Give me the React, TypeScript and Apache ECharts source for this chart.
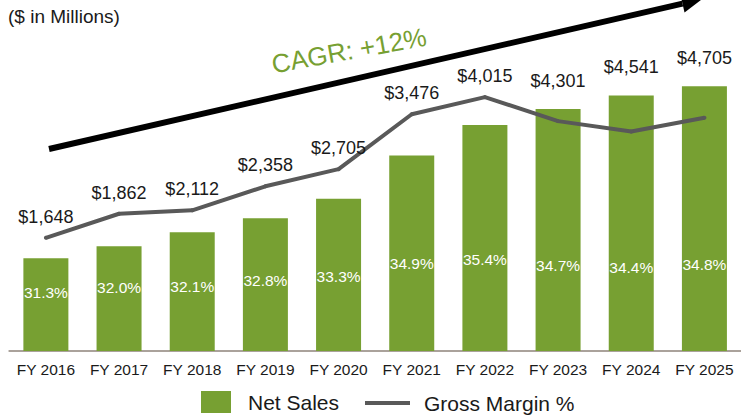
import React, { useEffect, useRef } from "react";
import * as echarts from "echarts";

const categories = ["FY 2016", "FY 2017", "FY 2018", "FY 2019", "FY 2020", "FY 2021", "FY 2022", "FY 2023", "FY 2024", "FY 2025"];
const netSales = [1648, 1862, 2112, 2358, 2705, 3476, 4015, 4301, 4541, 4705];
const grossMargin = [31.3, 32.0, 32.1, 32.8, 33.3, 34.9, 35.4, 34.7, 34.4, 34.8];
const unitNote = "($ in Millions)";
const cagrText = "CAGR: +12%";

const FONT = "'Liberation Sans', Arial, sans-serif";
const GREEN = "#77A032";
const GRAY = "#595959";

const salesMax = 6000;
const gmMin = 28;
const gmMax = 37.84;

export default function App() {
  const ref = useRef<HTMLDivElement>(null);
  useEffect(() => {
    document.body.style.margin = "0";
    if (!ref.current) return;
    const chart = echarts.init(ref.current, null, { renderer: "svg" });
    const barHigher = netSales.map(
      (v, i) => v / salesMax > (grossMargin[i] - gmMin) / (gmMax - gmMin)
    );
    const money = (i: number) => "$" + netSales[i].toLocaleString("en-US");

    // arrow geometry
    const sx = 49, sy = 149, tx = 702, ty = -0.8;
    const dx = tx - sx, dy = ty - sy;
    const len = Math.sqrt(dx * dx + dy * dy);
    const ux = dx / len, uy = dy / len;
    const nx = -uy, ny = ux;
    const L = 20, W = 9;
    const bx = tx - L * ux, by = ty - L * uy;

    chart.setOption({
      animation: false,
      grid: { left: 9.3, right: -7.4, top: 13.4, bottom: 66, containLabel: false },
      xAxis: {
        type: "category",
        data: categories,
        axisLine: { lineStyle: { color: "#aaa29b", width: 2 } },
        axisTick: { show: false },
        axisLabel: { interval: 0, fontSize: 15.5, color: "#1a1a1a", fontFamily: FONT, margin: 10 },
      },
      yAxis: [
        { type: "value", min: 0, max: salesMax, show: false },
        { type: "value", min: gmMin, max: gmMax, show: false },
        { type: "value", min: 24.05, max: 66.04, show: false },
      ],
      legend: [
        {
          data: ["Net Sales"],
          left: 201,
          top: 391,
          padding: 0,
          itemWidth: 30,
          itemHeight: 22,
          icon: "rect",
          selectedMode: false,
          textStyle: { fontSize: 21, color: "#1a1a1a", fontFamily: FONT, padding: [0, 0, 0, 12] },
        },
        {
          data: ["Gross Margin %"],
          left: 365,
          top: 392.5,
          padding: 0,
          itemWidth: 45,
          itemHeight: 4,
          icon: "rect",
          selectedMode: false,
          itemStyle: { color: GRAY },
          textStyle: { fontSize: 21, color: "#1a1a1a", fontFamily: FONT, padding: [0, 0, 0, 9] },
        },
      ],
      series: [
        {
          name: "Net Sales",
          type: "bar",
          barWidth: 45,
          itemStyle: { color: GREEN },
          data: netSales.map((v, i) => ({ value: v, label: { show: barHigher[i] } })),
          label: {
            show: false,
            position: "top",
            distance: 19,
            fontSize: 18,
            color: "#1a1a1a",
            fontFamily: FONT,
            formatter: (p: any) => money(p.dataIndex),
          },
          silent: true,
        },
        {
          name: "Gross Margin %",
          type: "line",
          yAxisIndex: 1,
          symbol: "circle",
          symbolSize: 4,
          itemStyle: { color: GRAY },
          lineStyle: { color: GRAY, width: 4 },
          data: grossMargin.map((v, i) => ({ value: v, label: { show: !barHigher[i] } })),
          label: {
            show: false,
            position: "top",
            distance: 10,
            fontSize: 18,
            color: "#1a1a1a",
            fontFamily: FONT,
            formatter: (p: any) => money(p.dataIndex),
          },
          silent: true,
          z: 3,
        },
        {
          name: "gmLabels",
          type: "line",
          yAxisIndex: 2,
          symbol: "circle",
          symbolSize: 1,
          itemStyle: { color: "rgba(0,0,0,0)" },
          lineStyle: { width: 0, opacity: 0 },
          data: grossMargin,
          label: {
            show: true,
            position: "inside",
            fontSize: 15.5,
            color: "#ffffff",
            fontFamily: FONT,
            formatter: (p: any) => Number(p.value).toFixed(1) + "%",
          },
          silent: true,
          z: 4,
        },
      ],
      graphic: [
        {
          type: "text",
          x: 8,
          y: 16,
          style: {
            text: unitNote,
            fill: "#1a1a1a",
            font: `19px ${FONT}`,
            textAlign: "left",
            textVerticalAlign: "middle",
            align: "left",
            verticalAlign: "middle",
          },
        },
        {
          type: "line",
          shape: { x1: sx, y1: sy, x2: bx, y2: by },
          style: { stroke: "#000000", lineWidth: 6 },
        },
        {
          type: "polygon",
          shape: {
            points: [
              [tx, ty],
              [bx + W * nx, by + W * ny],
              [bx - W * nx, by - W * ny],
            ],
          },
          style: { fill: "#000000" },
        },
        {
          type: "text",
          x: 349,
          y: 50.5,
          rotation: 0.18,
          style: {
            text: cagrText,
            fill: GREEN,
            font: `26px ${FONT}`,
            textAlign: "center",
            textVerticalAlign: "middle",
            align: "center",
            verticalAlign: "middle",
          },
        },
      ],
    });
    return () => chart.dispose();
  }, []);
  return <div ref={ref} style={{ width: 741, height: 417 }} />;
}
